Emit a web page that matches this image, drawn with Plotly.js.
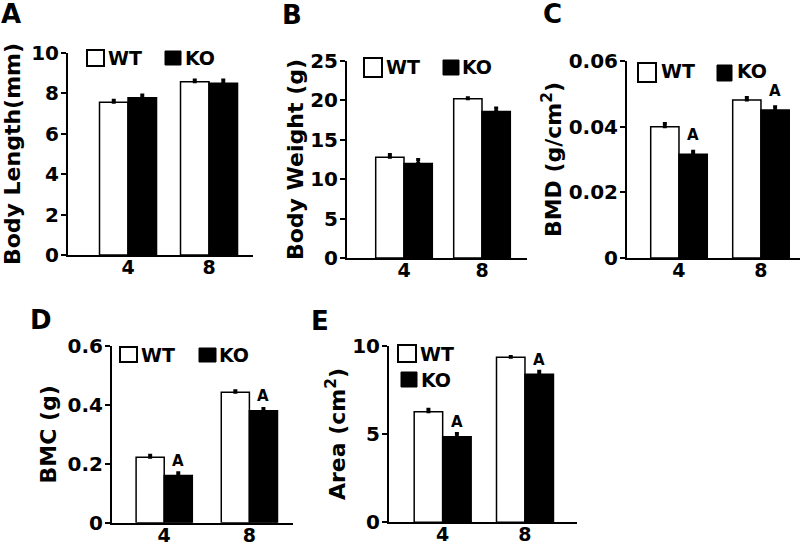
<!DOCTYPE html>
<html>
<head>
<meta charset="utf-8">
<script src="https://cdn.plot.ly/plotly-3.0.1.min.js"></script>
<style>html,body{margin:0;padding:0;background:#fff;}#chart{width:800px;height:544px;}</style>
</head>
<body>
<div id="chart"></div>
<script>
// ---- data ----
const ages = ["4", "8"];
const seriesNames = ["WT", "KO"];

const lengthWT = [7.56, 8.58];
const lengthKO = [7.79, 8.50];
const lengthWTErr = [0.10, 0.08];
const lengthKOErr = [0.13, 0.16];

const weightWT = [12.8, 20.2];
const weightKO = [12.0, 18.6];
const weightWTErr = [0.35, 0.15];
const weightKOErr = [0.50, 0.45];

const bmdWT = [0.0400, 0.0481];
const bmdKO = [0.0316, 0.0451];
const bmdWTErr = [0.0010, 0.0008];
const bmdKOErr = [0.0009, 0.0010];

const bmcWT = [0.222, 0.443];
const bmcKO = [0.160, 0.380];
const bmcWTErr = [0.007, 0.005];
const bmcKOErr = [0.010, 0.008];

const areaWT = [6.26, 9.34];
const areaKO = [4.85, 8.39];
const areaWTErr = [0.14, 0.05];
const areaKOErr = [0.18, 0.16];

const panelLetters = ["A", "B", "C", "D", "E"];
const yTitles = ["Body Length(mm)", "Body Weight (g)", "BMD (g/cm<sup>2</sup>)", "BMC (g)", "Area (cm<sup>2</sup>)"];
const yTicks = [[0, 2, 4, 6, 8, 10], [0, 5, 10, 15, 20, 25], [0, 0.02, 0.04, 0.06], [0, 0.2, 0.4, 0.6], [0, 5, 10]];
const yTickText = [["0","2","4","6","8","10"], ["0","5","10","15","20","25"], ["0","0.02","0.04","0.06"], ["0","0.2","0.4","0.6"], ["0","5","10"]];
const sigMarks = [[false, false], [false, false], [true, true], [true, true], [true, true]];
const sigLabel = "A";

// ---- layout helpers (pixel -> paper) ----
const W = 800, H = 544;
const px = x => x / W;
const py = y => 1 - y / H;
const FONT = "DejaVu Sans, Liberation Sans, Arial, sans-serif";

const panels = [
  {wt: lengthWT, ko: lengthKO, wtE: lengthWTErr, koE: lengthKOErr, yr: [0, 10],
   xd: [68, 253], yd: [255, 53], xr: [-0.741, 1.543], bw: 0.352, letter: [11, 14], sd: 4, so: 6,
   leg: {wt: [87, 50, 104, 66], ko: [165, 51, 181, 65], wtT: [106, 58], koT: [183, 58]}},
  {wt: weightWT, ko: weightKO, wtE: weightWTErr, koE: weightKOErr, yr: [0, 25],
   xd: [347, 527], yd: [258, 61], xr: [-0.731, 1.577], bw: 0.363, letter: [292, 15], sd: 4, so: 0,
   leg: {wt: [364, 58, 382, 77], ko: [443, 60, 459, 75], wtT: [384, 67], koT: [460, 67]}},
  {wt: bmdWT, ko: bmdKO, wtE: bmdWTErr, koE: bmdKOErr, yr: [0, 0.06],
   xd: [627, 800], yd: [258, 61], xr: [-0.634, 1.476], bw: 0.345, letter: [552, 14], sd: 8, so: 1,
   leg: {wt: [638, 63, 656, 82], ko: [717, 65, 732, 81], wtT: [659, 71], koT: [735, 71]}},
  {wt: bmcWT, ko: bmcKO, wtE: bmcWTErr, koE: bmcKOErr, yr: [0, 0.6],
   xd: [112, 293], yd: [522.7, 346], xr: [-0.613, 1.512], bw: 0.33, letter: [41, 320], sd: 4, so: 5,
   leg: {wt: [120, 347, 137, 362], ko: [199, 348, 216, 362], wtT: [139, 355], koT: [217, 355]}},
  {wt: areaWT, ko: areaKO, wtE: areaWTErr, koE: areaKOErr, yr: [0, 10],
   xd: [389, 577], yd: [522.3, 345.7], xr: [-0.652, 1.632], bw: 0.346, letter: [320, 321], sd: 3, so: 0,
   leg: {wt: [398, 345, 416, 362], ko: [401, 372, 417, 387], wtT: [418, 354], koT: [419, 380]}}
];

const data = [];
const layout = {
  width: W, height: H,
  margin: {l: 0, r: 0, t: 0, b: 0},
  paper_bgcolor: "#fff", plot_bgcolor: "#fff",
  showlegend: false,
  barmode: "overlay",
  font: {family: FONT, color: "#000", weight: "bold"},
  shapes: [], annotations: []
};

panels.forEach((p, i) => {
  const n = i + 1;
  const xa = "x" + (n === 1 ? "" : n), ya = "y" + (n === 1 ? "" : n);
  const xk = "xaxis" + (n === 1 ? "" : n), yk = "yaxis" + (n === 1 ? "" : n);
  const errStyle = {type: "data", symmetric: false, color: "#000", thickness: 3, width: 2};
  data.push({
    type: "bar", name: seriesNames[0], x: ages, y: p.wt, xaxis: xa, yaxis: ya,
    width: p.bw, offset: -p.bw,
    marker: {color: "#fff", line: {color: "#000", width: 1.5}},
    error_y: Object.assign({array: p.wtE, arrayminus: [0, 0]}, errStyle)
  });
  data.push({
    type: "bar", name: seriesNames[1], x: ages, y: p.ko, xaxis: xa, yaxis: ya,
    width: p.bw, offset: 0,
    marker: {color: "#000", line: {color: "#000", width: 1.5}},
    error_y: Object.assign({array: p.koE, arrayminus: [0, 0]}, errStyle)
  });
  layout[xk] = {
    domain: [px(p.xd[0]), px(p.xd[1])], anchor: ya, type: "category",
    range: p.xr, showline: true, linewidth: 2, linecolor: "#000",
    ticks: "", ticklabelstandoff: -6, showgrid: false, zeroline: false, fixedrange: true,
    tickfont: {size: 19, family: FONT, weight: "bold", color: "#000"}
  };
  layout[yk] = {
    domain: [py(p.yd[0]), py(p.yd[1])], anchor: xa, range: p.yr,
    tickmode: "array", tickvals: yTicks[i], ticktext: yTickText[i],
    showline: true, linewidth: 2, linecolor: "#000",
    ticks: "outside", ticklen: 5, tickwidth: 2, tickcolor: "#000",
    ticklabelstandoff: -2,
    showgrid: false, zeroline: false, fixedrange: true,
    tickfont: {size: 20, family: FONT, weight: "bold", color: "#000"},
    title: {text: yTitles[i], standoff: p.so, font: {size: 22, family: FONT, weight: "bold", color: "#000"}}
  };
  // panel letter
  layout.annotations.push({
    xref: "paper", yref: "paper", x: px(p.letter[0]), y: py(p.letter[1]),
    xanchor: "center", yanchor: "middle", showarrow: false, text: panelLetters[i],
    font: {size: 26, family: FONT, weight: "bold", color: "#000"}
  });
  // legend boxes
  const L = p.leg;
  layout.shapes.push({type: "rect", xref: "paper", yref: "paper",
    x0: px(L.wt[0]), y0: py(L.wt[3]), x1: px(L.wt[2]), y1: py(L.wt[1]),
    fillcolor: "#fff", line: {color: "#000", width: 2}});
  layout.shapes.push({type: "rect", xref: "paper", yref: "paper",
    x0: px(L.ko[0]), y0: py(L.ko[3]), x1: px(L.ko[2]), y1: py(L.ko[1]),
    fillcolor: "#000", line: {color: "#000", width: 1}});
  layout.annotations.push({xref: "paper", yref: "paper", x: px(L.wtT[0]), y: py(L.wtT[1]),
    xanchor: "left", yanchor: "middle", showarrow: false, text: seriesNames[0],
    font: {size: 19, family: FONT, weight: "bold", color: "#000"}});
  layout.annotations.push({xref: "paper", yref: "paper", x: px(L.koT[0]), y: py(L.koT[1]),
    xanchor: "left", yanchor: "middle", showarrow: false, text: seriesNames[1],
    font: {size: 19, family: FONT, weight: "bold", color: "#000"}});
  // significance marks above KO bars
  sigMarks[i].forEach((on, j) => {
    if (!on) return;
    layout.annotations.push({
      xref: xa, yref: ya, x: j + p.bw / 2, y: p.ko[j] + p.koE[j],
      xanchor: "center", yanchor: "bottom", yshift: p.sd - 3, showarrow: false, text: sigLabel,
      font: {size: 15, family: FONT, weight: "bold", color: "#000"}
    });
  });
});

Plotly.newPlot("chart", data, layout, {staticPlot: true, displayModeBar: false});
</script>
</body>
</html>
